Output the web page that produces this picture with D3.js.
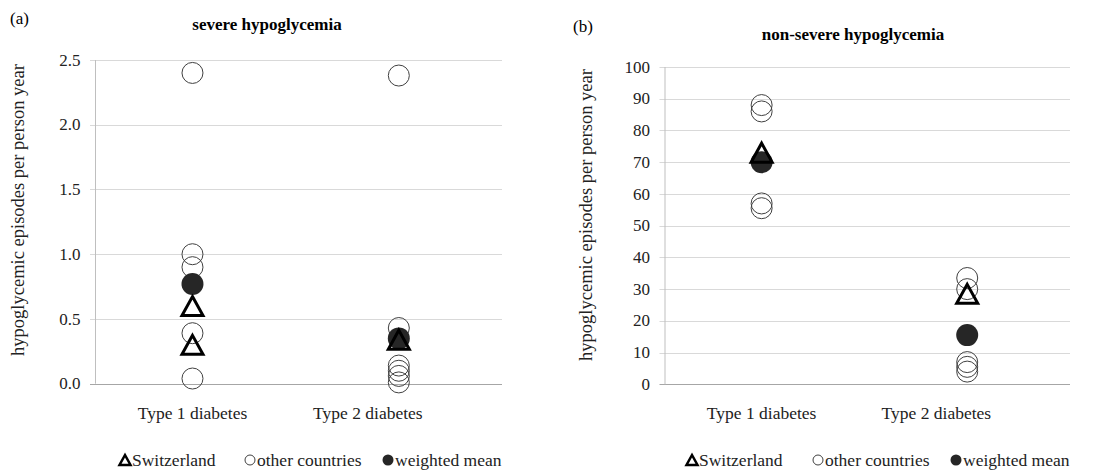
<!DOCTYPE html>
<html>
<head>
<meta charset="utf-8">
<script src="https://cdn.jsdelivr.net/npm/d3@7"></script>
<style>
  body { margin: 0; background: #fff; }
  svg { display: block; font-family: "Liberation Serif", "Times New Roman", serif; }
</style>
</head>
<body>
<div id="chart"></div>
<script>
// Data
const categories = ["Type 1 diabetes", "Type 2 diabetes"];
const legendLabels = ["Switzerland", "other countries", "weighted mean"];

const severeOther = [[2.40, 1.00, 0.90, 0.39, 0.04], [2.38, 0.43, 0.14, 0.10, 0.06, 0.01]];
const severeSwiss = [[0.60, 0.30], [0.34]];
const severeMean = [0.77, 0.35];
const severeTicks = [0, 0.5, 1.0, 1.5, 2.0, 2.5];

const nonSevereOther = [[88, 86, 57, 55.5], [33.5, 30, 7, 5.5, 4]];
const nonSevereSwiss = [[73], [28.5]];
const nonSevereMean = [70, 15.5];
const nonSevereTicks = [0, 10, 20, 30, 40, 50, 60, 70, 80, 90, 100];

// category label anchors on the x value scale (markers sit at 1 and 2)
const labelPos = [1, 1.85];

const W = 1118, H = 470;
const svg = d3.select("#chart").append("svg").attr("width", W).attr("height", H);

const triPath = (w, h) => `M0,${-h / 2}L${w / 2},${h / 2}L${-w / 2},${h / 2}Z`;

const panels = [
    { tag: "(a)", tagX: 10, tagY: 24, title: "severe hypoglycemia", titleX: 267, titleY: 30,
      left: 95.5, right: 502, y0: 383.7, y1: 60, yMax: 2.5, ticks: severeTicks, fmt: d3.format(".1f"),
      other: severeOther, swiss: severeSwiss, mean: severeMean, yTitleX: 24, yTitleY: 210,
      legend: [125, 250, 388] },
    { tag: "(b)", tagX: 573, tagY: 32, title: "non-severe hypoglycemia", titleX: 853, titleY: 40,
      left: 665, right: 1070, y0: 384.3, y1: 67, yMax: 100, ticks: nonSevereTicks, fmt: d3.format("d"),
      other: nonSevereOther, swiss: nonSevereSwiss, mean: nonSevereMean, yTitleX: 592, yTitleY: 215,
      legend: [692, 818, 956] }
];

panels.forEach(p => {
    const g = svg.append("g");
    const x = d3.scaleLinear().domain([0.53, 2.5]).range([p.left, p.right]);
    const y = d3.scaleLinear().domain([0, p.yMax]).range([p.y0, p.y1]);

    g.append("text").attr("x", p.tagX).attr("y", p.tagY).attr("font-size", 17).text(p.tag);
    g.append("text").attr("x", p.titleX).attr("y", p.titleY).attr("text-anchor", "middle")
        .attr("font-size", 17).attr("font-weight", "bold").text(p.title);

    // gridlines + tick labels
    g.selectAll(".grid").data(p.ticks).enter().append("line")
        .attr("x1", p.left - 5.5).attr("x2", p.right)
        .attr("y1", d => Math.round(y(d)) + 0.5).attr("y2", d => Math.round(y(d)) + 0.5)
        .attr("stroke", d => d === 0 ? "#a6a6a6" : "#d9d9d9").attr("stroke-width", 1);
    g.append("line").attr("x1", p.left).attr("x2", p.left)
        .attr("y1", y(p.yMax)).attr("y2", y(0)).attr("stroke", "#bfbfbf");
    g.selectAll(".tl").data(p.ticks).enter().append("text")
        .attr("x", p.left - 15).attr("y", d => y(d)).attr("dy", "0.33em")
        .attr("text-anchor", "end").attr("font-size", 17).attr("fill", "#222").text(p.fmt);

    // y axis title
    g.append("text").attr("transform", `translate(${p.yTitleX},${p.yTitleY}) rotate(-90)`)
        .attr("text-anchor", "middle").attr("font-size", 18.5).attr("fill", "#222")
        .text("hypoglycemic episodes per person year");

    // category labels
    g.selectAll(".cat").data(categories).enter().append("text")
        .attr("x", (d, i) => x(labelPos[i])).attr("y", 419).attr("text-anchor", "middle")
        .attr("font-size", 17.5).attr("fill", "#222").text(d => d);

    // other countries
    p.other.forEach((vals, i) => {
        g.selectAll(null).data(vals).enter().append("circle")
            .attr("cx", x(i + 1)).attr("cy", d => y(d)).attr("r", 10.5)
            .attr("fill", "none").attr("stroke", "#404040").attr("stroke-width", 1);
    });
    // weighted mean
    g.selectAll(null).data(p.mean).enter().append("circle")
        .attr("cx", (d, i) => x(i + 1)).attr("cy", d => y(d)).attr("r", 11)
        .attr("fill", "#262626");
    // Switzerland
    p.swiss.forEach((vals, i) => {
        g.selectAll(null).data(vals).enter().append("path")
            .attr("d", triPath(21, 19))
            .attr("transform", d => `translate(${x(i + 1)},${y(d)})`)
            .attr("fill", "none").attr("stroke", "#000").attr("stroke-width", 3);
    });

    // legend
    const ly = 460;
    g.append("path").attr("d", triPath(11, 10)).attr("transform", `translate(${p.legend[0]},${ly})`)
        .attr("fill", "none").attr("stroke", "#000").attr("stroke-width", 2.5);
    g.append("circle").attr("cx", p.legend[1]).attr("cy", ly).attr("r", 5)
        .attr("fill", "none").attr("stroke", "#404040").attr("stroke-width", 1);
    g.append("circle").attr("cx", p.legend[2]).attr("cy", ly).attr("r", 5.5).attr("fill", "#262626");
    legendLabels.forEach((t, i) => {
        g.append("text").attr("x", p.legend[i] + 7).attr("y", 465.5)
            .attr("font-size", 17.5).attr("fill", "#222").text(t);
    });
});
</script>
</body>
</html>
